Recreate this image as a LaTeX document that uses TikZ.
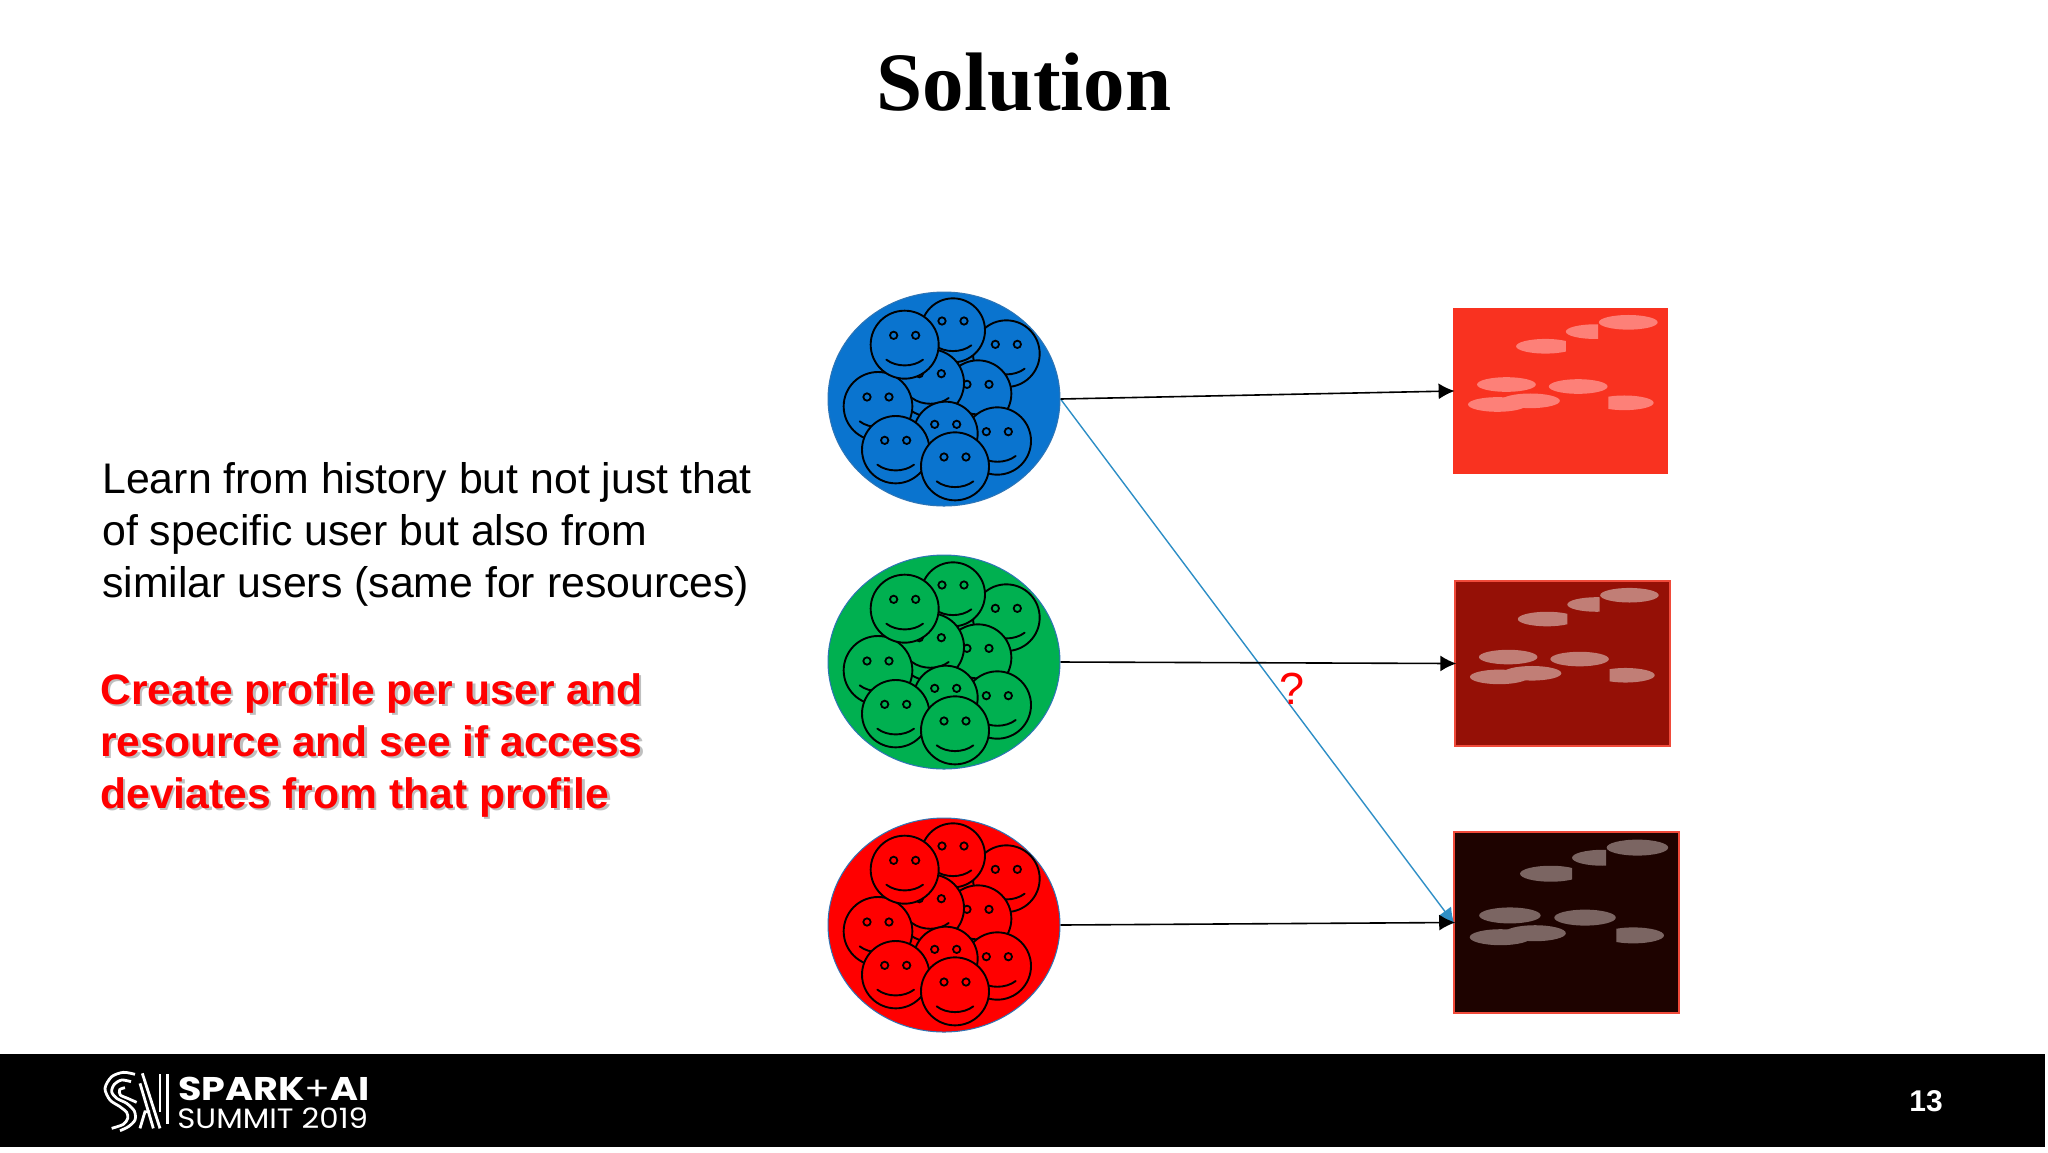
\documentclass[tikz,border=0pt]{standalone}
\usepackage{fontspec}
\usetikzlibrary{shapes.geometric,arrows.meta}
\setmainfont{Liberation Sans}
\newfontfamily\serifbold{Liberation Serif}[BoldFont={Liberation Serif Bold}]
\newfontfamily\logofont{Poppins}[FakeStretch=1.16]
\newfontfamily\logofontb{Poppins}[FakeStretch=1.1]
\definecolor{cblue}{HTML}{0A74CF}
\definecolor{cgreen}{HTML}{00B050}
\definecolor{cred}{HTML}{FF0000}
\definecolor{edgeblue}{HTML}{2E75B6}
\definecolor{arrowblue}{HTML}{2F8FC6}
\definecolor{boxa}{HTML}{F93220}
\definecolor{boxb}{HTML}{951006}
\definecolor{boxc}{HTML}{1E0300}
\definecolor{spota}{HTML}{FD8078}
\definecolor{spotb}{HTML}{C17E76}
\definecolor{spotc}{HTML}{7B6562}
\definecolor{boxedge}{HTML}{F04A3A}
\newcommand{\oneface}[3]{%
  \fill[fill=facecol] (#1,#2) circle [radius=#3];
  \draw[line width=0.95pt] (#1,#2) circle [radius=#3];
  \draw[line width=0.95pt,line cap=round] (#1-55,#2+45) .. controls (#1-25,#2+68) and (#1+25,#2+68) .. (#1+55,#2+45);
  \draw[line width=0.9pt] (#1-33,#2-28) circle [radius=11];
  \draw[line width=0.9pt] (#1+33,#2-28) circle [radius=11];
}
\newcommand{\crowd}[3]{%
  \colorlet{facecol}{#3}%
  \begin{scope}[shift={(#1,#2)},x=0.16667pt,y=-0.16667pt,shift={(-403,-355)}]
    \oneface{590}{222}{100}
    \oneface{430}{152}{96}
    \oneface{505}{342}{100}
    \oneface{362}{310}{101}
    \oneface{205}{380}{103}
    \oneface{285}{195}{102}
    \oneface{563}{484}{101}
    \oneface{408}{462}{96}
    \oneface{258}{510}{101}
    \oneface{436}{560}{102}
  \end{scope}%
}
\newcommand{\spots}[5]{% x y w h spot colour
  \begin{scope}[shift={(#1,#2)},x=#3*0.5pt/644,y=-#4*0.5pt/499,shift={(-40,-53)}]
    \fill[#5] (565,96) ellipse [x radius=88,y radius=22];
    \begin{scope}\clip (370,90) rectangle (475,150);
      \fill[#5] (466,124) ellipse [x radius=88,y radius=22];\end{scope}
    \begin{scope}\clip (220,140) rectangle (378,195);
      \fill[#5] (317,168) ellipse [x radius=88,y radius=22];\end{scope}
    \fill[#5] (200,283) ellipse [x radius=88,y radius=22];
    \fill[#5] (415,289) ellipse [x radius=88,y radius=22];
    \fill[#5] (272,332) ellipse [x radius=88,y radius=22];
    \fill[#5] (173,343) ellipse [x radius=88,y radius=22];
    \begin{scope}\clip (505,310) rectangle (650,365);
      \fill[#5] (553,338) ellipse [x radius=88,y radius=22];\end{scope}
  \end{scope}%
}
\tikzset{
  crowdbase/.style={ellipse,inner sep=0pt,minimum width=116pt,minimum height=107pt,draw=edgeblue,line width=0.5pt},
  resbox/.style={rectangle,inner sep=0pt},
  flow/.style={line width=0.8pt,shorten >=-1pt,-{Latex[length=8pt,width=8pt]}},
  oddflow/.style={line width=0.7pt,draw=arrowblue,shorten >=-1pt,-{Latex[length=8pt,width=8pt,color=arrowblue]}},
  bodytext/.style={anchor=north west,align=left,inner sep=0pt,font=\fontsize{21.4}{26}\selectfont},
  redtext/.style={anchor=north west,align=left,inner sep=0pt,font=\fontsize{21.3}{26}\selectfont\bfseries},
}
\begin{document}
\begin{tikzpicture}[x=0.5pt,y=-0.5pt]
\useasboundingbox (0,0) rectangle (2048,1152);
\fill[white] (0,0) rectangle (2048,1152);
\node[font=\serifbold\bfseries\fontsize{41.5}{48}\selectfont,anchor=base] (title) at (1024,110.5) {Solution};
\node[bodytext] (learn) at (102,462) {Learn from history but not just that\\of specific user but also from\\similar users (same for resources)};
\node[redtext,text=black!45,opacity=0.55] (shadow) at (102.5,675.5) {Create profile per user and\\resource and see if access\\deviates from that profile};
\node[redtext,text=red] (create) at (100,673) {Create profile per user and\\resource and see if access\\deviates from that profile};
% users
\node[crowdbase,fill=cblue] (u1) at (944,399) {};
\crowd{944}{398}{cblue}
\node[crowdbase,fill=cgreen] (u2) at (944,662) {};
\crowd{944}{662}{cgreen}
\node[crowdbase,fill=cred] (u3) at (944,925) {};
\crowd{944}{923}{cred}
% resources
\node[resbox,fill=boxa,minimum width=107.5pt,minimum height=83pt] (r1) at (1560.5,391) {};
\spots{1453}{308}{215}{166}{spota}
\node[resbox,fill=boxb,draw=boxedge,line width=0.7pt,minimum width=107.5pt,minimum height=82.5pt] (r2) at (1562.5,663.5) {};
\spots{1455}{581}{214}{165}{spotb}
\node[resbox,fill=boxc,draw=boxedge,line width=0.8pt,minimum width=112.5pt,minimum height=90.5pt] (r3) at (1566.5,922.5) {};
\spots{1454}{832}{225}{181}{spotc}
% connectors
\draw[oddflow] (u1.east) -- (r3.west);
\draw[flow] (u1.east) -- (r1.west);
\draw[flow] (u2.east) -- (r2.west);
\draw[flow] (u3.east) -- (r3.west);
\node[text=red,font=\fontsize{22.5}{26}\selectfont] (q) at (1292,689) {?};
% footer
\fill[black] (0,1054) rectangle (2045,1147);
\node[text=white,font=\bfseries\fontsize{15}{18}\selectfont] (page) at (1926,1101) {13};
\begin{scope}[shift={(95,1065)},x=0.16667pt,y=-0.16667pt,draw=white,line width=1.4pt]
  \draw plot[smooth] coordinates {(120,28)(85,22)(50,35)(30,70)(45,105)(75,125)(95,142)(98,160)(85,178)(50,190)};
  \draw plot[smooth] coordinates {(108,50)(80,45)(58,58)(50,80)(65,100)(95,115)(118,138)(120,165)(100,185)(75,197)};
  \draw plot[smooth] coordinates {(90,68)(74,74)(76,90)(98,100)(125,112)};
  \draw (142,25) -- (195,190);
  \draw (135,55) -- (175,190);
  \draw (135,190) -- (150,140) -- (165,140);
  \draw (195,28) -- (195,140);
  \draw (218,28) -- (218,178);
\end{scope}
\node[text=white,anchor=base west,inner sep=0pt,font=\logofont\bfseries\fontsize{16.4}{18}\selectfont] (spark) at (178,1100) {SPARK\textmd{+}AI};
\node[text=white,anchor=base west,inner sep=0pt,font=\logofontb\fontsize{14}{16}\selectfont] (summit) at (177,1128) {SUMMIT 2019};
\end{tikzpicture}
\end{document}
